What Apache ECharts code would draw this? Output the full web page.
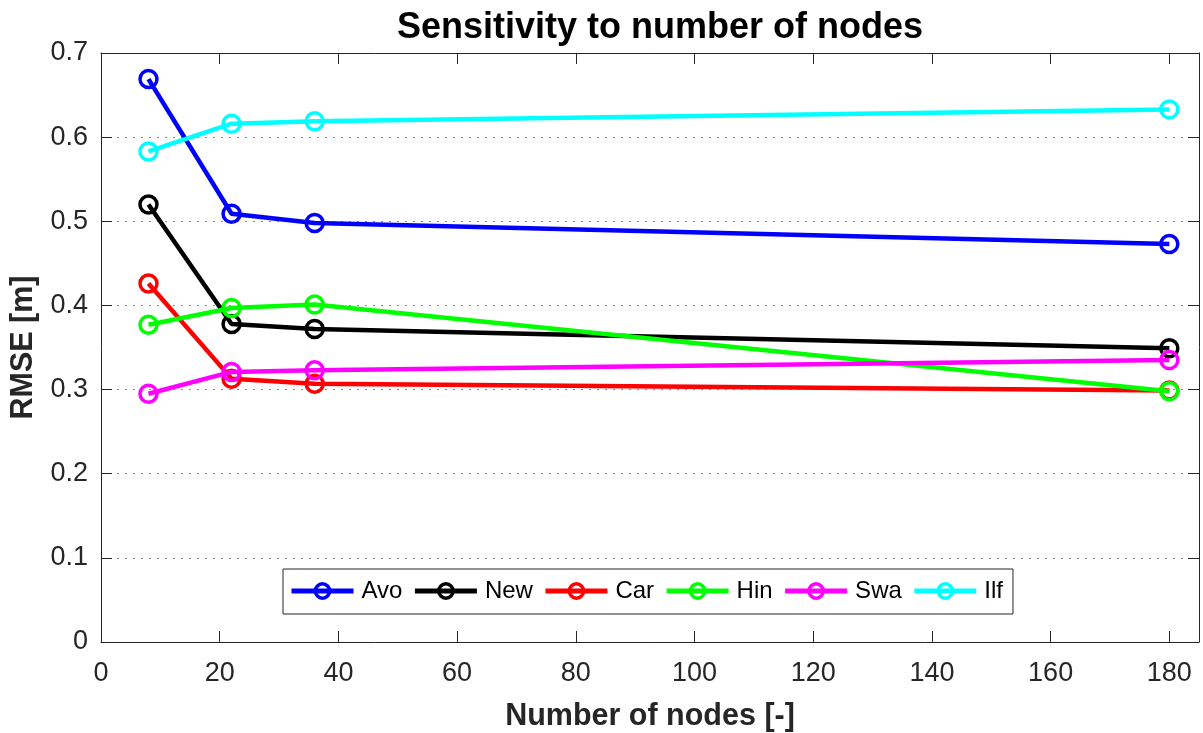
<!DOCTYPE html>
<html>
<head>
<meta charset="utf-8">
<script src="https://cdn.jsdelivr.net/npm/echarts@6/dist/echarts.min.js"></script>
<style>
  html, body { margin: 0; padding: 0; background: #fff; }
  #chart { width: 1203px; height: 733px; }
</style>
</head>
<body>
<div id="chart"></div>
<script>
// number of nodes
var nodes = [8, 22, 36, 180];

// RMSE per method
var avo = [0.669, 0.509, 0.498, 0.473];
var newc = [0.520, 0.378, 0.372, 0.349];
var car = [0.426, 0.313, 0.307, 0.299];
var hin = [0.377, 0.397, 0.401, 0.298];
var swa = [0.295, 0.321, 0.323, 0.335];
var ilf = [0.583, 0.616, 0.619, 0.633];

var names = ['Avo', 'New', 'Car', 'Hin', 'Swa', 'Ilf'];
var colors = ['#0000ff', '#000000', '#ff0000', '#00ff00', '#ff00ff', '#00ffff'];
var allData = [avo, newc, car, hin, swa, ilf];

var font = 'Liberation Sans, Arial, Helvetica, sans-serif';
var axisColor = '#262626';

function pairs(ys) {
    var out = [];
    for (var i = 0; i < nodes.length; i++) out.push([nodes[i], ys[i]]);
    return out;
}

var series = [];
for (var k = 0; k < names.length; k++) {
    series.push({
        name: names[k],
        type: 'line',
        data: pairs(allData[k]),
        symbol: 'circle',
        symbolSize: 17,
        showAllSymbol: true,
        lineStyle: { color: colors[k], width: 4.5 },
        itemStyle: { color: 'transparent', borderColor: colors[k], borderWidth: 3.5 },
        emphasis: { disabled: true },
        z: 2 + k
    });
}
// empty series so the top / right box axes get drawn
series.push({
    name: 'box',
    type: 'line',
    xAxisIndex: 1,
    yAxisIndex: 1,
    data: [],
    silent: true
});

var myChart = echarts.init(document.getElementById('chart'));

var option = {
    backgroundColor: '#fff',
    animation: false,
    textStyle: { fontFamily: font },
    title: {
        text: 'Sensitivity to number of nodes',
        left: 655,
        textAlign: 'center',
        top: 5,
        textStyle: { fontFamily: font, fontSize: 36, fontWeight: 'bold', color: '#000' }
    },
    legend: {
        data: names,
        left: 283,
        top: 569,
        orient: 'horizontal',
        itemWidth: 62,
        itemHeight: 18,
        itemGap: 10,
        padding: [10, 10, 11, 6],
        borderColor: axisColor,
        borderWidth: 1,
        backgroundColor: '#fff',
        lineStyle: { width: 5 },
        itemStyle: { borderWidth: 3.5 },
        textStyle: { fontFamily: font, fontSize: 24, color: '#000', padding: [0, 0, 0, 3] }
    },
    grid: { left: 101, right: 4, top: 53, bottom: 91, containLabel: false, outerBoundsMode: 'none' },
    xAxis: [{
        type: 'value',
        min: 0,
        max: 185,
        interval: 20,
        name: 'Number of nodes [-]',
        nameLocation: 'middle',
        nameGap: 59,
        nameTextStyle: { fontFamily: font, fontSize: 30.5, fontWeight: 'bold', color: axisColor },
        axisLine: { show: true, onZero: false, lineStyle: { color: axisColor, width: 1 } },
        axisTick: { show: true, inside: true, length: 11, lineStyle: { color: axisColor } },
        axisLabel: {
            fontFamily: font, fontSize: 27, color: axisColor, margin: 18,
            formatter: function (v) { return v % 20 === 0 ? String(v) : ''; }
        },
        splitLine: { show: false }
    }, {
        type: 'value',
        show: true,
        position: 'top',
        min: 0,
        max: 185,
        interval: 20,
        axisLine: { show: true, onZero: false, lineStyle: { color: axisColor, width: 1 } },
        axisTick: { show: true, inside: true, length: 11, lineStyle: { color: axisColor } },
        axisLabel: { show: false },
        splitLine: { show: false }
    }],
    yAxis: [{
        type: 'value',
        min: 0,
        max: 0.7,
        interval: 0.1,
        name: 'RMSE [m]',
        nameLocation: 'middle',
        nameGap: 62,
        nameTextStyle: { fontFamily: font, fontSize: 30.5, fontWeight: 'bold', color: axisColor },
        axisLine: { show: true, onZero: false, lineStyle: { color: axisColor, width: 1 } },
        axisTick: { show: true, inside: true, length: 11, lineStyle: { color: axisColor } },
        axisLabel: { fontFamily: font, fontSize: 27, color: axisColor, margin: 13 },
        splitLine: { show: true, lineStyle: { color: '#8c8c8c', type: [2, 6], width: 1 } }
    }, {
        type: 'value',
        show: true,
        position: 'right',
        min: 0,
        max: 0.7,
        interval: 0.1,
        axisLine: { show: true, onZero: false, lineStyle: { color: axisColor, width: 1 } },
        axisTick: { show: true, inside: true, length: 11, lineStyle: { color: axisColor } },
        axisLabel: { show: false },
        splitLine: { show: false }
    }],
    series: series
};

myChart.setOption(option);
</script>
</body>
</html>
